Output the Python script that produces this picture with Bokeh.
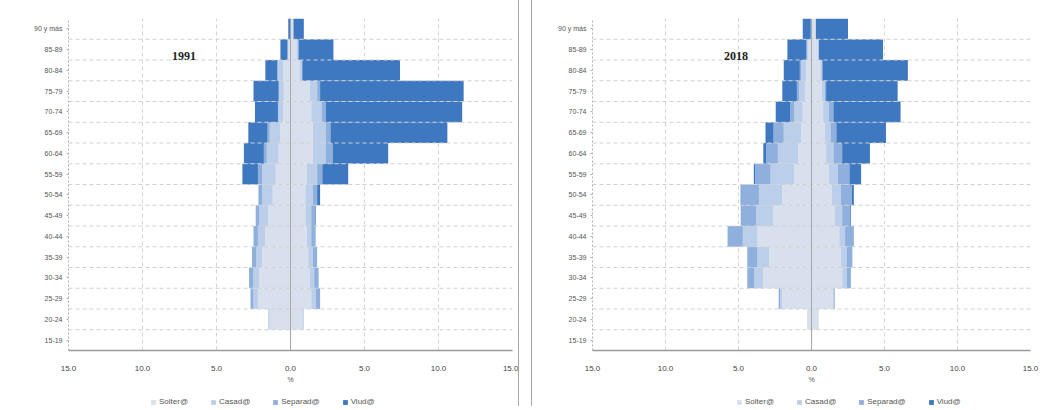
from bokeh.plotting import figure
from bokeh.models import ColumnDataSource, FactorRange, Range1d, FixedTicker, Legend, LegendItem, Label, Span
from bokeh.layouts import row, column
from bokeh.embed import file_html
from bokeh.resources import INLINE

ages = ["15-19", "20-24", "25-29", "30-34", "35-39", "40-44", "45-49", "50-54",
        "55-59", "60-64", "65-69", "70-74", "75-79", "80-84", "85-89", "90 y más"]
series = ["Solter@", "Casad@", "Separad@", "Viud@"]
colors = ["#d8e0ed", "#bccfea", "#8fb0dd", "#3e78c1"]
ticks = [-15, -10, -5, 0, 5, 10, 15]
tick_labels = ["15.0", "10.0", "5.0", "0.0", "5.0", "10.0", "15.0"]

# 1991 - left side (hombres), values in %
m1991_solter = [0.02, 1.4, 2.2, 2.1, 1.9, 1.7, 1.5, 1.2, 1.0, 0.8, 0.7, 0.5, 0.45, 0.5, 0.15, 0.02]
m1991_casad = [0.0, 0.1, 0.3, 0.4, 0.4, 0.5, 0.6, 0.7, 0.9, 0.8, 0.7, 0.3, 0.3, 0.35, 0.05, 0.0]
m1991_separad = [0.0, 0.0, 0.2, 0.3, 0.3, 0.3, 0.25, 0.2, 0.3, 0.2, 0.15, 0.05, 0.05, 0.05, 0.0, 0.0]
m1991_viud = [0.0, 0.0, 0.0, 0.0, 0.0, 0.0, 0.0, 0.05, 1.05, 1.35, 1.3, 1.55, 1.7, 0.8, 0.48, 0.13]
# 1991 - right side (mujeres)
f1991_solter = [0.05, 0.8, 1.4, 1.3, 1.2, 1.1, 1.0, 1.0, 1.1, 1.5, 1.5, 1.4, 1.3, 0.6, 0.4, 0.2]
f1991_casad = [0.0, 0.1, 0.3, 0.3, 0.3, 0.3, 0.4, 0.5, 0.7, 0.9, 0.9, 0.7, 0.5, 0.15, 0.1, 0.0]
f1991_separad = [0.0, 0.0, 0.3, 0.3, 0.3, 0.3, 0.25, 0.3, 0.35, 0.45, 0.3, 0.3, 0.2, 0.05, 0.05, 0.0]
f1991_viud = [0.0, 0.0, 0.0, 0.0, 0.0, 0.0, 0.05, 0.2, 1.75, 3.75, 7.9, 9.2, 9.7, 6.6, 2.35, 0.7]

# 2018 - left side (hombres)
m2018_solter = [0.02, 0.3, 2.0, 3.3, 2.9, 3.7, 2.6, 2.0, 1.2, 0.9, 0.7, 0.6, 0.45, 0.35, 0.2, 0.05]
m2018_casad = [0.0, 0.0, 0.15, 0.6, 0.8, 1.0, 1.2, 1.6, 1.6, 1.4, 1.2, 0.6, 0.4, 0.35, 0.1, 0.0]
m2018_separad = [0.0, 0.0, 0.1, 0.5, 0.7, 1.05, 1.05, 1.2, 1.05, 0.8, 0.7, 0.25, 0.15, 0.1, 0.05, 0.0]
m2018_viud = [0.0, 0.0, 0.0, 0.0, 0.0, 0.0, 0.0, 0.05, 0.1, 0.2, 0.55, 1.0, 1.0, 1.1, 1.3, 0.55]
# 2018 - right side (mujeres)
f2018_solter = [0.05, 0.5, 1.45, 2.1, 2.0, 1.9, 1.6, 1.4, 1.2, 1.0, 0.9, 0.8, 0.7, 0.6, 0.45, 0.3]
f2018_casad = [0.0, 0.0, 0.1, 0.3, 0.4, 0.4, 0.5, 0.6, 0.6, 0.5, 0.4, 0.4, 0.2, 0.1, 0.05, 0.0]
f2018_separad = [0.0, 0.0, 0.05, 0.3, 0.4, 0.6, 0.55, 0.75, 0.8, 0.6, 0.4, 0.3, 0.1, 0.05, 0.0, 0.0]
f2018_viud = [0.0, 0.0, 0.0, 0.0, 0.0, 0.0, 0.05, 0.15, 0.8, 1.9, 3.4, 4.6, 4.9, 5.85, 4.4, 2.2]

FONT = "Liberation Sans"


def make_panel(year, left_lists, right_lists, width, year_x, min_left, min_right, legend_x, frame_style):
    data = {"age": ages}
    lk = []
    rk = []
    for i, (lv, rv) in enumerate(zip(left_lists, right_lists)):
        data["l%d" % i] = [-v for v in lv]
        data["r%d" % i] = list(rv)
        lk.append("l%d" % i)
        rk.append("r%d" % i)
    src = ColumnDataSource(data)

    p = figure(width=width, height=392, y_range=FactorRange(*ages, range_padding=0),
               x_range=Range1d(-15, 15), output_backend="svg", toolbar_location=None,
               min_border_left=min_left, min_border_right=min_right, min_border_top=18,
               min_border_bottom=42)
    p.outline_line_color = None
    p.background_fill_color = "white"

    p.xgrid.grid_line_color = "#d4d4d4"
    p.xgrid.grid_line_dash = "4 3"
    p.ygrid.grid_line_color = None

    for k in range(1, len(ages)):
        p.add_layout(Span(location=k, dimension="width", line_color="#d0d0d0",
                          line_dash="4 3", line_width=1))

    p.hbar_stack(lk, y="age", height=1.0, color=colors, source=src, line_color=None)
    p.hbar_stack(rk, y="age", height=1.0, color=colors, source=src, line_color=None)

    p.add_layout(Span(location=0, dimension="height", line_color="#a8a8a8", line_width=1))

    p.xaxis.ticker = FixedTicker(ticks=ticks)
    p.xaxis.major_label_overrides = {t: l for t, l in zip(ticks, tick_labels)}
    p.xaxis.axis_line_color = "#9a9a9a"
    p.xaxis.axis_line_width = 1.5
    p.xaxis.major_tick_line_color = None
    p.xaxis.minor_tick_line_color = None
    p.xaxis.major_label_text_font = FONT
    p.xaxis.major_label_text_font_size = "8px"
    p.xaxis.major_label_text_color = "#444444"
    p.xaxis.major_label_standoff = 9
    p.xaxis.axis_label = "%"
    p.xaxis.axis_label_text_font = FONT
    p.xaxis.axis_label_text_font_size = "7px"
    p.xaxis.axis_label_text_font_style = "normal"
    p.xaxis.axis_label_text_color = "#555555"
    p.xaxis.axis_label_standoff = 2

    p.yaxis.axis_line_color = "#b0b0b0"
    p.yaxis.axis_line_dash = "2 2"
    p.yaxis.major_tick_line_color = "#b0b0b0"
    p.yaxis.major_tick_out = 2
    p.yaxis.major_tick_in = 0
    p.yaxis.major_label_text_font = FONT
    p.yaxis.major_label_text_font_size = "7px"
    p.yaxis.major_label_text_color = "#555555"
    p.yaxis.major_label_standoff = 4

    p.add_layout(Label(x=year_x, y=14.2, text=year, text_font="Liberation Serif",
                       text_font_size="12px", text_font_style="bold", text_color="#222222",
                       text_baseline="middle", text_align="left"))

    # legend strip below the panel (its frame is aligned with the panel's frame)
    lf = figure(width=width, height=14, x_range=Range1d(0, 1), y_range=Range1d(0, 1),
                output_backend="svg", toolbar_location=None, x_axis_type=None,
                y_axis_type=None, min_border=0)
    lf.outline_line_color = None
    lf.grid.grid_line_color = None
    # legend swatch proxies, kept outside the visible range
    sw = [lf.hbar(y=[-5], left=[0], right=[0.1], height=0.5, color=c, line_color=None)
          for c in colors]
    legend = Legend(items=[LegendItem(label=s, renderers=[r]) for s, r in zip(series, sw)],
                    orientation="horizontal", location=(legend_x, 0),
                    label_text_font=FONT, label_text_font_size="8px", label_text_color="#555555",
                    glyph_width=6, glyph_height=6, label_standoff=3, spacing=22,
                    padding=2, margin=0, border_line_color=None, background_fill_alpha=0,
                    label_height=8)
    lf.add_layout(legend)
    return column(p, lf, spacing=0, styles=frame_style)


p1 = make_panel("1991",
                [m1991_solter, m1991_casad, m1991_separad, m1991_viud],
                [f1991_solter, f1991_casad, f1991_separad, f1991_viud],
                518, -8.0, 68, 6, 82, {"box-shadow": "1px 0 0 #a8a8a8"})
p2 = make_panel("2018",
                [m2018_solter, m2018_casad, m2018_separad, m2018_viud],
                [f2018_solter, f2018_casad, f2018_separad, f2018_viud],
                514, -6.0, 60, 16, 144, {"box-shadow": "-1px 0 0 #a8a8a8"})

layout = row(p1, p2, spacing=14)
open("out.html", "w").write(file_html(layout, INLINE))
